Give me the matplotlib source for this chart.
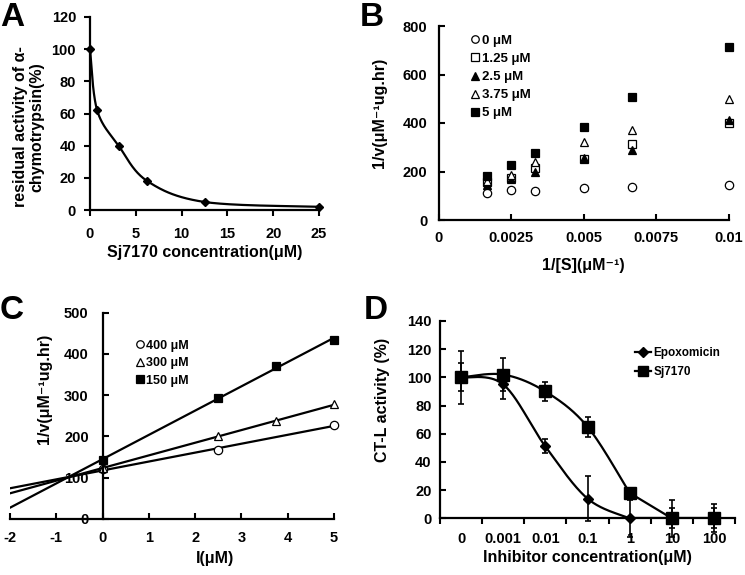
import numpy as np
import matplotlib
matplotlib.use('Agg')
import matplotlib.pyplot as plt
from matplotlib.lines import Line2D

plt.rcParams['font.family'] = ['Liberation Sans', 'DejaVu Sans']
plt.rcParams['font.weight'] = 'bold'
plt.rcParams['axes.labelweight'] = 'bold'
plt.rcParams['axes.unicode_minus'] = False

# panel A
conc_a = [0, 0.78, 3.125, 6.25, 12.5, 25]
resid_a = [100, 62, 40, 18, 5, 2]

# panel B
inv_s = [1/600, 1/400, 1/300, 1/200, 1/150, 1/100]
b_labels = ['0 μM', '1.25 μM', '2.5 μM', '3.75 μM', '5 μM']
b_0 = [112, 122, 121, 131, 137, 143]
b_125 = [158, 172, 214, 250, 315, 398]
b_25 = [145, 168, 199, 254, 289, 413]
b_375 = [162, 185, 238, 323, 371, 498]
b_5 = [180, 227, 278, 385, 509, 715]

# panel C
c_x400 = [0, 2.5, 5]
c_y400 = [120, 167, 228]
c_x300 = [0, 2.5, 3.75, 5]
c_y300 = [124, 200, 237, 278]
c_x150 = [0, 2.5, 3.75, 5]
c_y150 = [143, 294, 370, 435]

# panel D
d_cats = ['0', '0.001', '0.01', '0.1', '1', '10', '100']
epox = [100, 95, 51, 14, 0, 0, 0]
epox_err = [10, 10, 5, 16, 13, 7, 7]
sj = [100, 102, 90, 65, 18, 0, 0]
sj_err = [19, 12, 7, 7, 3, 13, 10]


def smooth(xs, ys, sx, sy, n=40):
    # Excel style smoothed line (bezier through points, in pixel scale)
    p = np.column_stack([np.asarray(xs, float) * sx, np.asarray(ys, float) * sy])
    pts = np.vstack([p[0], p, p[-1]])
    t = np.linspace(0, 1, n)[:, None]
    out = []
    for i in range(1, len(pts) - 2):
        p0, p1, p2, p3 = pts[i - 1], pts[i], pts[i + 1], pts[i + 2]
        c1 = p1 + (p2 - p0) / 6
        c2 = p2 - (p3 - p1) / 6
        out.append((1 - t) ** 3 * p1 + 3 * (1 - t) ** 2 * t * c1 + 3 * (1 - t) * t ** 2 * c2 + t ** 3 * p2)
    out = np.vstack(out)
    return out[:, 0] / sx, out[:, 1] / sy


W, H = 745, 575
fig = plt.figure(figsize=(W / 100, H / 100), dpi=100)


def axes_px(x0, x1, ytop, ybot):
    return fig.add_axes([x0 / W, 1 - ybot / H, (x1 - x0) / W, (ybot - ytop) / H])


tick_fs = 10.5
lab_fs = 11.5
lw = 1.6

# ---------------- A
ax = axes_px(90, 319, 17, 210)
xs, ys = smooth(conc_a, resid_a, 229 / 25, 193 / 120)
ax.plot(xs, ys, color='black', lw=lw)
ax.plot(conc_a, resid_a, 'D', color='black', ms=4, clip_on=False)
ax.set_xlim(0, 25)
ax.set_ylim(0, 120)
ax.set_xticks(range(0, 26, 5))
ax.set_yticks(range(0, 121, 20))
ax.tick_params(direction='out', length=4, width=1.5, labelsize=tick_fs, pad=6)
ax.tick_params(axis='x', pad=8)
ax.set_xlabel('Sj7170 concentration(μM)', fontsize=lab_fs, labelpad=3)
ax.set_ylabel('residual activity of α-\nchymotrypsin(%)', fontsize=lab_fs, linespacing=1.1)
ax.yaxis.set_label_coords(-0.2, 0.43)

# ---------------- B
ax = axes_px(438.7, 728.7, 26, 220)
ax.plot(inv_s, b_0, 'o', mfc='white', mec='black', ms=6, mew=0.9, clip_on=False, label=b_labels[0])
ax.plot(inv_s, b_125, 's', mfc='white', mec='black', ms=6, mew=0.9, clip_on=False, label=b_labels[1])
ax.plot(inv_s, b_25, '^', mfc='black', mec='black', ms=6, mew=0.9, clip_on=False, label=b_labels[2])
ax.plot(inv_s, b_375, '^', mfc='white', mec='black', ms=6, mew=0.9, clip_on=False, label=b_labels[3])
ax.plot(inv_s, b_5, 's', mfc='black', mec='black', ms=6, mew=0.9, clip_on=False, label=b_labels[4])
ax.set_xlim(0, 0.01)
ax.set_ylim(0, 800)
ax.set_xticks([0, 0.0025, 0.005, 0.0075, 0.01])
ax.set_xticklabels(['0', '0.0025', '0.005', '0.0075', '0.01'])
ax.set_yticks(range(0, 801, 200))
ax.tick_params(direction='in', length=4, width=1.5, labelsize=tick_fs, pad=8)
ax.set_xlabel('1/[S](μM⁻¹)', fontsize=lab_fs, labelpad=9)
ax.set_ylabel('1/v(μM⁻¹ug.hr)', fontsize=lab_fs)
ax.yaxis.set_label_coords(-0.18, 0.55)
ax.legend(loc='upper left', bbox_to_anchor=(0.09, 0.99), frameon=False, fontsize=9.5,
          handlelength=0.6, handletextpad=0.2, labelspacing=0.45, borderpad=0, markerscale=0.9)

# ---------------- C
ax = axes_px(10, 334, 312.7, 519)
xl = np.array([-2, 5])
for xd, yd, mk, fc, lab in [(c_x400, c_y400, 'o', 'white', '400 μM'),
                            (c_x300, c_y300, '^', 'white', '300 μM'),
                            (c_x150, c_y150, 's', 'black', '150 μM')]:
    k, b = np.polyfit(xd, yd, 1)
    ax.plot(xl, k * xl + b, color='black', lw=lw)
    ax.plot(xd, yd, mk, mfc=fc, mec='black', ms=6, mew=0.9, clip_on=False, label=lab)
ax.set_xlim(-2, 5)
ax.set_ylim(0, 500)
ax.spines['left'].set_position(('data', 0))
ax.set_xticks(range(-2, 6))
ax.set_yticks(range(0, 501, 100))
ax.tick_params(direction='in', length=4, width=1.5, labelsize=tick_fs, pad=9)
ax.tick_params(axis='y', pad=10)
ax.set_xlabel('I(μM)', fontsize=lab_fs)
ax.xaxis.set_label_coords(0.633, -0.155)
ax.set_ylabel('1/v(μM⁻¹ug.hr)', fontsize=lab_fs)
ax.yaxis.set_label_coords(0.13, 0.63)
ax.legend(loc='upper left', bbox_to_anchor=(0.37, 0.9), frameon=False, fontsize=9,
          handlelength=0.6, handletextpad=0.2, labelspacing=0.45, borderpad=0, markerscale=0.9)

# ---------------- D
ax = axes_px(440, 735, 321, 518.3)
pos = np.arange(len(d_cats))
ex, ey = smooth(pos[:5], epox[:5], 42.2, 197.3 / 140)
ax.plot(ex, ey, color='black', lw=lw)
ax.plot(pos[4:], epox[4:], color='black', lw=lw)
sx_, sy_ = smooth(pos[:5], sj[:5], 42.2, 197.3 / 140)
ax.plot(sx_, sy_, color='black', lw=lw)
ax.plot(pos[4:], sj[4:], color='black', lw=lw)
ax.errorbar(pos, epox, yerr=epox_err, fmt='D', color='black', ms=5, capsize=2.5,
            elinewidth=1.2, capthick=1.2, clip_on=False)
ax.errorbar(pos, sj, yerr=sj_err, fmt='s', color='black', ms=8, capsize=2.5,
            elinewidth=1.2, capthick=1.2, clip_on=False)
ax.set_xlim(-0.5, 6.5)
ax.set_ylim(0, 140)
ax.set_xticks(np.arange(-0.5, 7, 1))
ax.set_xticklabels([])
ax.set_xticks(pos, minor=True)
ax.set_xticklabels(d_cats, minor=True)
ax.tick_params(axis='x', which='major', direction='out', length=4, width=1.5)
ax.tick_params(axis='x', which='minor', length=0, labelsize=tick_fs, pad=10)
ax.tick_params(axis='y', direction='in', length=4, width=1.5, labelsize=tick_fs, pad=6)
ax.set_yticks(range(0, 141, 20))
ax.set_xlabel('Inhibitor concentration(μM)', fontsize=lab_fs, labelpad=3)
ax.set_ylabel('CT-L activity (%)', fontsize=lab_fs)
ax.yaxis.set_label_coords(-0.17, 0.6)
handles = [Line2D([], [], color='black', lw=lw, marker='D', ms=5),
           Line2D([], [], color='black', lw=lw, marker='s', ms=7)]
ax.legend(handles, ['Epoxomicin', 'Sj7170'], loc='upper left', bbox_to_anchor=(0.64, 0.9),
          frameon=False, fontsize=8.5, handlelength=1.4, handletextpad=0.2, labelspacing=0.6, borderpad=0)

for a in fig.axes:
    for s in ['top', 'right']:
        a.spines[s].set_visible(False)
    for s in ['left', 'bottom']:
        a.spines[s].set_linewidth(1.6)

# panel letters
for lab, x, y in [('A', 0, 26), ('B', 360, 26), ('C', 0, 319), ('D', 364, 319)]:
    fig.text(x / W, 1 - y / H, lab, fontsize=24, fontweight='bold', va='baseline')

fig.savefig('out.png', dpi=100)
